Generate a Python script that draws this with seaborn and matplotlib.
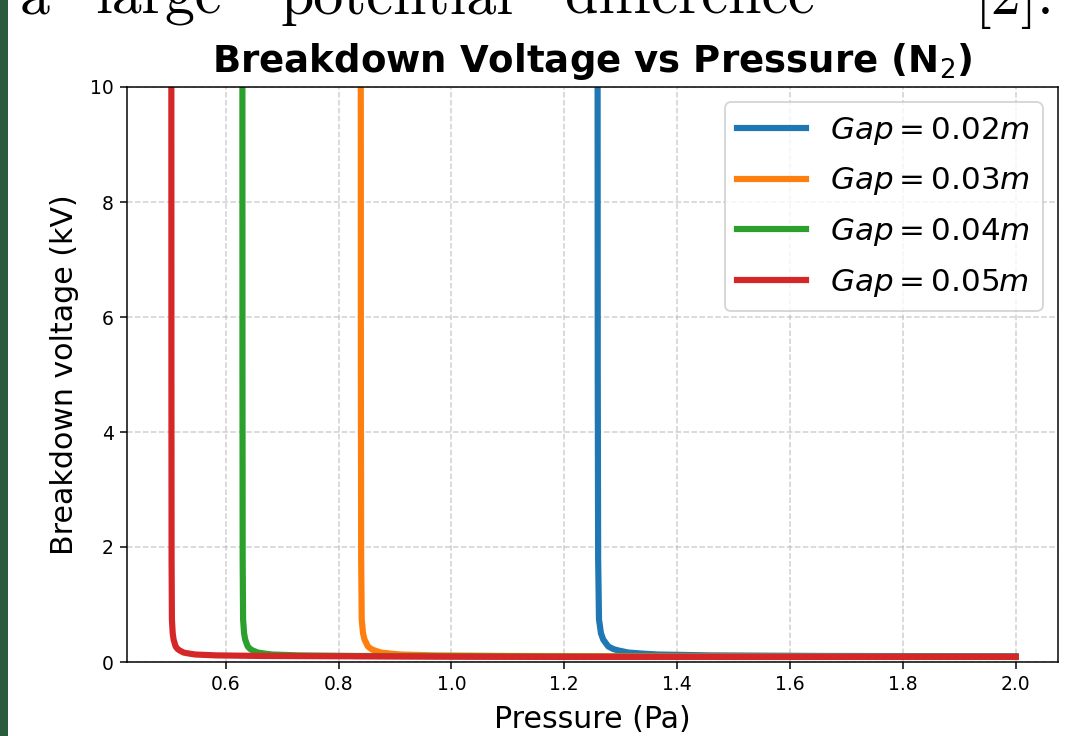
import matplotlib
matplotlib.use("Agg")
import matplotlib.pyplot as plt
import seaborn as sns
import pandas as pd

# ---- data ----
gap_labels = [r"$Gap = 0.02m$", r"$Gap = 0.03m$", r"$Gap = 0.04m$", r"$Gap = 0.05m$"]
colors = ["#1f77b4", "#ff7f0e", "#2ca02c", "#d62728"]

p_002 = [1.259, 1.2593, 1.260, 1.2615, 1.265, 1.269, 1.278, 1.287, 1.296, 1.313, 1.34, 1.366, 1.459, 1.659, 2.0]
v_002 = [11.0, 5.0, 1.8, 0.74, 0.5, 0.39, 0.27, 0.225, 0.20, 0.165, 0.145, 0.13, 0.115, 0.105, 0.10]

p_003 = [0.8393, 0.8395, 0.840, 0.841, 0.8433, 0.846, 0.852, 0.858, 0.864, 0.875, 0.893, 0.911, 0.972, 1.106, 1.333, 1.679, 2.0]
v_003 = [11.0, 5.0, 1.8, 0.74, 0.5, 0.39, 0.27, 0.225, 0.20, 0.165, 0.145, 0.13, 0.115, 0.105, 0.10, 0.092, 0.088]

p_004 = [0.6295, 0.62965, 0.6300, 0.63075, 0.6325, 0.6345, 0.639, 0.6435, 0.648, 0.6565, 0.670, 0.683, 0.7295, 0.8295, 0.999, 1.259, 1.5, 2.0]
v_004 = [11.0, 5.0, 1.8, 0.74, 0.5, 0.39, 0.27, 0.225, 0.20, 0.165, 0.145, 0.13, 0.115, 0.105, 0.10, 0.092, 0.088, 0.088]

p_005 = [0.5036, 0.50372, 0.5040, 0.5046, 0.506, 0.5076, 0.5112, 0.5148, 0.5184, 0.5252, 0.536, 0.5464, 0.5836, 0.6636, 0.7992, 1.0072, 1.2, 1.6, 2.0]
v_005 = [11.0, 5.0, 1.8, 0.74, 0.5, 0.39, 0.27, 0.225, 0.20, 0.165, 0.145, 0.13, 0.115, 0.105, 0.10, 0.092, 0.088, 0.088, 0.09]

x_ticks = [0.6, 0.8, 1.0, 1.2, 1.4, 1.6, 1.8, 2.0]
y_ticks = [0, 2, 4, 6, 8, 10]

series = [(p_002, v_002), (p_003, v_003), (p_004, v_004), (p_005, v_005)]

# ---- figure ----
DPI = 135
fig = plt.figure(figsize=(1065 / DPI, 736 / DPI), dpi=DPI)
fig.patch.set_facecolor("white")

# slide decoration: green bar on the left
fig.patches.append(matplotlib.patches.Rectangle((0, 0), 7.5 / 1065, 1, transform=fig.transFigure,
                                                 facecolor="#285c3c", edgecolor="none", zorder=0))
# slide text (cut off at the top, as in the screenshot)
words = ["a", "large", "potential", "difference", "[2]."]
word_x = [20, 95, 280, 565, 975]
for w, xp in zip(words, word_x):
    fig.text(xp / 1065, 1 - 14 / 736, w, family="cmr10", fontsize=32, va="baseline", ha="left",
             color="black")

ax = fig.add_axes([127 / 1065, 1 - 662 / 736, (1058 - 127) / 1065, (662 - 87) / 736])

for (p, v), lab, c in zip(series, gap_labels, colors):
    df = pd.DataFrame({"Pressure": p, "Voltage": v})
    sns.lineplot(data=df, x="Pressure", y="Voltage", ax=ax, color=c, linewidth=3.3,
                 label=lab, estimator=None, sort=False)

ax.set_xlim(0.425, 2.075)
ax.set_ylim(0, 10)
ax.set_xticks(x_ticks)
ax.set_yticks(y_ticks)
ax.tick_params(labelsize=10)
ax.grid(True, linestyle="--", alpha=0.6)
ax.set_title(r"Breakdown Voltage vs Pressure (N$_2$)", fontsize=19.8, fontweight="bold", pad=8)
ax.set_xlabel("Pressure (Pa)", fontsize=16, labelpad=6)
ax.set_ylabel("Breakdown voltage (kV)", fontsize=16, labelpad=6)
ax.legend(loc="upper right", fontsize=16.5, handlelength=2.2, labelspacing=0.6)

fig.savefig("out.png", dpi=DPI)
